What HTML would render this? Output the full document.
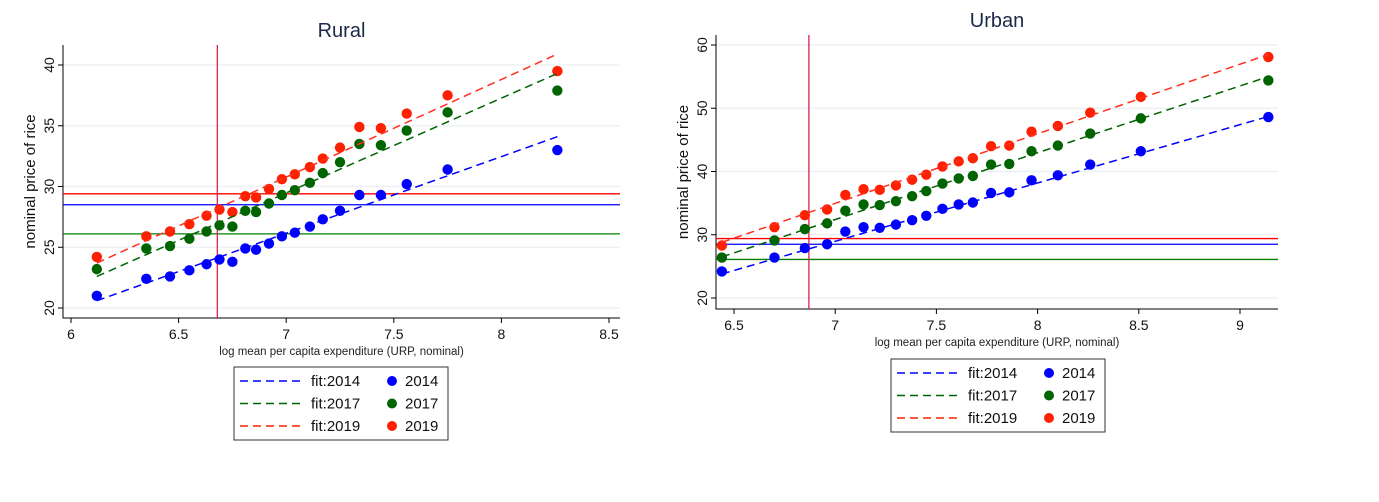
<!DOCTYPE html>
<html><head><meta charset="utf-8"><style>
html,body{margin:0;padding:0;background:#fff;}
svg{display:block;font-family:"Liberation Sans",sans-serif;}
</style></head><body>
<svg id="svg" width="1379" height="502" viewBox="0 0 1379 502"></svg>
<script>
// Rural data
const ruralX=[6.12,6.35,6.46,6.55,6.63,6.69,6.75,6.81,6.86,6.92,6.98,7.04,7.11,7.17,7.25,7.34,7.44,7.56,7.75,8.26];
const rural2014=[21,22.4,22.6,23.1,23.6,24,23.8,24.9,24.8,25.3,25.9,26.2,26.7,27.3,28,29.3,29.3,30.2,31.4,33];
const rural2017=[23.2,24.9,25.1,25.7,26.3,26.8,26.7,28,27.9,28.6,29.3,29.7,30.3,31.1,32,33.5,33.4,34.6,36.1,37.9];
const rural2019=[24.2,25.9,26.3,26.9,27.6,28.1,27.9,29.2,29.1,29.8,30.6,31,31.6,32.3,33.2,34.9,34.8,36,37.5,39.5];
const ruralFitX=[6.12,8.26];
const ruralFit2014=[20.6,34.1];
const ruralFit2017=[22.6,39.3];
const ruralFit2019=[23.7,40.9];
const ruralHLines=[29.4,28.5,26.1];
const ruralVLine=6.68;
const ruralXTicks=[6,6.5,7,7.5,8,8.5];
const ruralYTicks=[20,25,30,35,40];
// Urban data
const urbanX=[6.44,6.70,6.85,6.96,7.05,7.14,7.22,7.30,7.38,7.45,7.53,7.61,7.68,7.77,7.86,7.97,8.10,8.26,8.51,9.14];
const urban2014=[24.2,26.4,27.9,28.5,30.5,31.2,31.1,31.6,32.3,33,34.1,34.8,35.1,36.6,36.7,38.6,39.4,41.1,43.2,48.6];
const urban2017=[26.4,29.1,30.9,31.8,33.8,34.8,34.7,35.3,36.1,36.9,38.1,38.9,39.3,41.1,41.2,43.2,44.1,46,48.4,54.4];
const urban2019=[28.3,31.2,33.1,34,36.3,37.2,37.1,37.8,38.7,39.5,40.8,41.6,42.1,44,44.1,46.3,47.2,49.3,51.8,58.1];
const urbanFitX=[6.44,9.14];
const urbanFit2014=[23.8,48.7];
const urbanFit2017=[26.5,55];
const urbanFit2019=[28.8,58.5];
const urbanHLines=[29.4,28.5,26.1];
const urbanVLine=6.87;
const urbanXTicks=[6.5,7,7.5,8,8.5,9];
const urbanYTicks=[20,30,40,50,60];
const colors=['#0000ff','#006400','#ff2000'];
const hColors=['#ff0000','#0000ff','#008000'];
const years=['2014','2017','2019'];

const svg=document.getElementById('svg');
const NS='http://www.w3.org/2000/svg';
function mk(tag,attrs,parent){const e=document.createElementNS(NS,tag);for(const k in attrs)e.setAttribute(k,attrs[k]);(parent||svg).appendChild(e);return e;}

function panel(p){
  const g=mk('g',{});
  
  
  const sx=v=>p.px0+(v-p.x0)*(p.px1-p.px0)/(p.x1-p.x0);
  const sy=v=>p.py0+(v-p.y0)*(p.py1-p.py0)/(p.y1-p.y0);
  // grid
  p.yTicks.forEach(t=>{const l=mk('line',{x1:p.L,x2:p.R,y1:sy(t),y2:sy(t),stroke:'#eef0f3','stroke-width':1.5},g);
    });
  // axes
  const ax=mk('path',{d:`M${p.L},${p.T}V${p.B}H${p.R}`,fill:'none',stroke:'#000','stroke-width':1},g);
  
  p.yTicks.forEach(t=>{mk('line',{x1:p.L-5,x2:p.L,y1:sy(t),y2:sy(t),stroke:'#000'},g);
    const tx=mk('text',{x:0,y:0,transform:`translate(${p.L-9},${sy(t)}) rotate(-90)`,'text-anchor':'middle','font-size':14,fill:'#111'},g);
    tx.textContent=t;});
  p.xTicks.forEach(t=>{mk('line',{x1:sx(t),x2:sx(t),y1:p.B,y2:p.B+5,stroke:'#000'},g);
    const tx=mk('text',{x:sx(t),y:p.B+21,'text-anchor':'middle','font-size':14,fill:'#111'},g);
    tx.textContent=t;});
  // title & axis titles
  const ti=mk('text',{x:(p.L+p.R)/2,y:p.titleY,'text-anchor':'middle','font-size':20,fill:'#1a2a4a'},g);
  ti.textContent=p.title;
  const xt=mk('text',{x:(p.L+p.R)/2,y:p.B+37,'text-anchor':'middle','font-size':11.5,fill:'#222'},g);
  xt.textContent='log mean per capita expenditure (URP, nominal)';
  const yt=mk('text',{x:0,y:0,transform:`translate(${p.L-28},${(p.T+p.B)/2}) rotate(-90)`,'text-anchor':'middle','font-size':15,fill:'#111'},g);
  yt.textContent='nominal price of rice';
  // reference lines
  p.hLines.forEach((v,i)=>{const l=mk('line',{x1:p.L,x2:p.R,y1:sy(v),y2:sy(v),stroke:hColors[i],'stroke-width':1.3},g);
    });
  const vl=mk('line',{x1:sx(p.vLine),x2:sx(p.vLine),y1:p.T,y2:p.B,stroke:'#e0204a','stroke-width':1.3},g);
  
  // series
  p.series.forEach((s,i)=>{
    const pts=s.map((v,j)=>{const c=mk('circle',{cx:sx(p.xs[j]),cy:sy(v),r:5.2,fill:colors[i]},g);
      });
  });
  p.fits.forEach((f,i)=>{const l=mk('line',{x1:sx(p.fitX[0]),y1:sy(f[0]),x2:sx(p.fitX[1]),y2:sy(f[1]),stroke:colors[i]=='#ff2000'?'#ff3020':colors[i],'stroke-width':1.5,'stroke-dasharray':'8,5'},g);
    });
  // legend
  const lg=mk('g',{},g);
  mk('rect',{x:p.lgX,y:p.lgY,width:214,height:73,fill:'#fff',stroke:'#333','stroke-width':1},lg);
  years.forEach((y,i)=>{const cy=p.lgY+14+i*22.5;
    const e=mk('g',{},lg);
    mk('line',{x1:p.lgX+6,x2:p.lgX+67,y1:cy,y2:cy,stroke:colors[i],'stroke-width':1.5,'stroke-dasharray':'8,5'},e);
    const t1=mk('text',{x:p.lgX+77,y:cy+5,'font-size':15,fill:'#111'},e);t1.textContent='fit:'+y;
    mk('circle',{cx:p.lgX+158,cy:cy,r:5,fill:colors[i]},e);
    const t2=mk('text',{x:p.lgX+171,y:cy+5,'font-size':15,fill:'#111'},e);t2.textContent=y;
  });
}
panel({name:'rural',title:'Rural',titleY:37,L:63,R:620,T:45,B:318,x0:6,x1:8.5,px0:71,px1:609,y0:20,y1:40,py0:308,py1:65,
  xTicks:ruralXTicks,yTicks:ruralYTicks,xs:ruralX,series:[rural2014,rural2017,rural2019],fitX:ruralFitX,
  fits:[ruralFit2014,ruralFit2017,ruralFit2019],hLines:ruralHLines,vLine:ruralVLine,lgX:234,lgY:367});
panel({name:'urban',title:'Urban',titleY:27,L:716,R:1278,T:35,B:309,x0:6.5,x1:9,px0:734,px1:1240,y0:20,y1:60,py0:298,py1:45,
  xTicks:urbanXTicks,yTicks:urbanYTicks,xs:urbanX,series:[urban2014,urban2017,urban2019],fitX:urbanFitX,
  fits:[urbanFit2014,urbanFit2017,urbanFit2019],hLines:urbanHLines,vLine:urbanVLine,lgX:891,lgY:359});
</script>
</body></html>
